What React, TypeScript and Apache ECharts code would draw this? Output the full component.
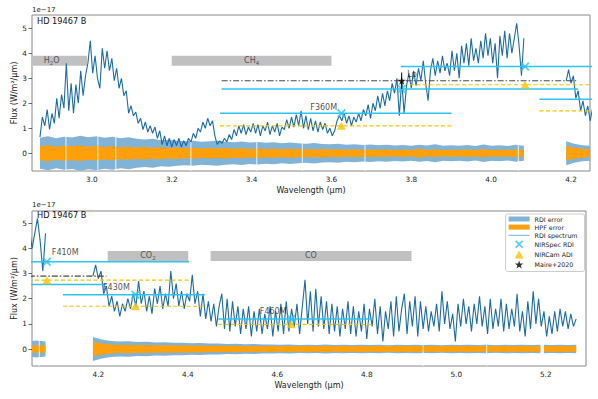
import React, { useEffect, useRef } from "react";
import * as echarts from "echarts";

const FONT = "DejaVu Sans";

// ---------------- spectrum (flux in 1e-17 W/m2/um) ----------------
const specStep = 0.006;
const specAStart = 2.87;
const specAFlux = [
  0.65, 1.45, 1.1, 1.75, 0.95, 1.6, 1.2, 2.2, 1.4, 2.35,
  1.8, 3.6, 1.7, 2.8, 1.6, 2.75, 2.0, 3.3, 2.3, 3.1,
  3.6, 4.5, 3.2, 3.9, 3.0, 2.6, 4.2, 3.4, 4.1, 3.3,
  3.8, 2.9, 3.4, 2.6, 3.0, 2.3, 2.5, 1.6, 1.9, 1.5,
  1.65, 1.2, 1.4, 0.95, 1.25, 0.85, 1.1, 0.8, 1.05, 0.6,
  0.9, 0.35, 0.7, 0.3, 0.6, 0.25, 0.55, 0.3, 0.6, 0.25,
  0.5, 0.3, 0.6, 0.45, 0.8, 0.6, 1.0, 0.85, 1.25, 1.0,
  1.4, 1.1, 1.3, 0.7, 0.35, 0.5, 0.4, 0.6, 0.45, 0.75,
  0.55, 0.95, 0.7, 1.1, 0.8, 1.15, 0.75, 1.05, 0.85, 1.2,
  0.8, 1.15, 0.7, 1.1, 0.9, 1.25, 0.75, 1.1, 0.85, 1.2,
  0.7, 1.05, 0.95, 1.35, 1.0, 1.45, 1.05, 1.55, 1.1, 1.7,
  1.0, 1.5, 0.95, 1.4, 0.9, 1.3, 0.85, 1.25, 0.95, 1.2,
  0.8, 1.0, 0.7, 0.9, 1.3, 1.5, 1.3, 1.6, 1.2, 1.5,
  1.1, 1.45, 1.25, 1.6, 1.3, 1.75, 1.5, 1.95, 1.4, 2.0,
  1.7, 2.3, 1.8, 2.4, 1.9, 2.5, 2.1, 2.8, 2.4, 3.0,
  1.5, 2.9, 1.6, 2.7, 3.2, 2.6, 3.3, 2.7, 3.4, 2.9,
  3.7, 2.8, 2.1, 3.3, 3.8, 3.1, 3.7, 3.2, 3.9, 3.3,
  3.6, 3.1, 4.1, 3.3, 4.0, 3.0, 4.3, 3.6, 4.4, 3.5,
  4.6, 3.7, 4.2, 3.6, 4.5, 3.8, 4.8, 3.9, 4.6, 3.6,
  4.4, 3.0, 4.7, 3.9, 4.9, 3.8, 4.8, 4.0, 4.6, 5.2,
  4.3, 3.1, 4.6,
];
const specBStart = 4.188;
const specBFlux = [
  2.9, 3.35, 2.8, 3.1, 2.2, 2.5, 1.7, 2.1, 1.5, 1.9,
  1.3, 1.8, 1.5, 2.0, 1.6, 2.2, 1.7, 2.7, 1.8, 2.3,
  1.5, 2.1, 1.4, 2.4, 1.8, 2.5, 1.6, 2.2, 1.7, 3.1,
  2.0, 2.6, 1.7, 2.3, 1.6, 2.2, 1.9, 2.95, 1.8, 2.3,
  1.3, 2.2, 1.2, 1.9, 1.1, 1.8, 0.9, 1.7,
  2.2, 0.8, 2.0, 0.7, 1.9, 0.9, 1.7, 0.6, 1.6, 0.8, 1.7, 0.5,
  1.5, 0.7, 1.6, 0.6, 1.4, 0.8, 1.7, 0.5, 1.5, 0.7,
  1.8, 0.6, 1.9, 0.7, 1.6, 0.9, 1.8, 0.6, 1.7, 2.75,
  1.0, 2.3, 0.7, 2.4, 0.9, 2.1, 0.8, 1.9, 0.6, 1.8,
  0.7, 1.7, 0.5, 1.6, 0.8, 1.9, 0.6, 1.7, 0.5, 1.5,
  0.7, 1.8, 0.4, 1.6, 0.9, 2.0, 0.6, 1.7, 0.3, 1.5,
  0.8, 1.9, 0.5, 2.1, 0.7, 1.6,
  2.2, 0.6, 1.9, 0.9, 2.1, 0.5, 1.9, 0.8, 1.7, 0.7,
  1.5, 0.9, 1.8, 0.7, 2.3, 1.0, 1.9, 0.8, 1.4, 0.3,
  1.8, 0.9, 2.0, 1.0, 1.7, 0.7, 1.8, 1.0, 2.1, 0.9,
  1.7, 0.6, 2.0, 0.8, 1.6, 0.9, 2.0, 0.7, 1.8, 0.8,
  1.6, 0.9, 2.2, 0.7, 1.5, 0.5, 1.9, 0.8, 2.3, 1.0,
  2.0, 0.9, 1.5, 0.5, 1.3, 0.6, 1.5, 0.7, 1.6, 0.9,
  1.5, 0.8, 1.4, 0.9, 1.2,
];

// ---------------- error bands (half widths) ----------------
const bandStarts = [2.87, 4.188, 5.196];
const bandEnds = [4.082, 5.188, 5.268];
const rdiErr1 = [
  0.62, 0.68, 0.6, 0.66, 0.63, 0.7, 0.64, 0.68, 0.62, 0.66,
  0.6, 0.64, 0.58, 0.55, 0.58, 0.52, 0.54, 0.5, 0.48, 0.5,
  0.46, 0.48, 0.5, 0.46, 0.44, 0.47, 0.43, 0.45, 0.42, 0.44,
  0.4, 0.43, 0.4, 0.38, 0.41, 0.37, 0.36, 0.38, 0.34, 0.36,
  0.33, 0.35, 0.32, 0.34, 0.31, 0.33, 0.3, 0.34, 0.31, 0.36,
  0.3, 0.32, 0.3, 0.33, 0.29, 0.35, 0.3, 0.32, 0.29, 0.34,
  0.3,
];
const hpfErr1 = [
  0.28, 0.32, 0.26, 0.3, 0.28, 0.31, 0.26, 0.29, 0.25, 0.28,
  0.24, 0.26, 0.23, 0.25, 0.22, 0.24, 0.21, 0.23, 0.2, 0.22,
  0.19, 0.21, 0.19, 0.21, 0.18, 0.2, 0.17, 0.19, 0.17, 0.18,
  0.16, 0.18, 0.16, 0.17, 0.15, 0.17, 0.15, 0.16, 0.14, 0.16,
  0.14, 0.15, 0.14, 0.15, 0.13, 0.15, 0.13, 0.18, 0.13, 0.15,
  0.13, 0.14, 0.13, 0.15, 0.13, 0.16, 0.13, 0.14, 0.13, 0.15,
  0.14,
];
const rdiErr2 = [
  0.48, 0.38, 0.32, 0.3, 0.31, 0.28, 0.29, 0.26, 0.27, 0.25,
  0.25, 0.23, 0.24, 0.22, 0.22, 0.2, 0.21, 0.19, 0.2, 0.18,
  0.18, 0.17, 0.18, 0.16, 0.17, 0.16, 0.18, 0.16, 0.17, 0.16,
  0.17, 0.16, 0.17, 0.15, 0.17, 0.16, 0.17, 0.16, 0.17, 0.15,
  0.17, 0.16, 0.17, 0.16, 0.17, 0.15, 0.17, 0.16, 0.17, 0.16,
  0.17,
];
const hpfErr2 = [
  0.28, 0.22, 0.18, 0.16, 0.17, 0.15, 0.16, 0.14, 0.15, 0.14,
  0.14, 0.13, 0.14, 0.12, 0.13, 0.12, 0.13, 0.11, 0.12, 0.11,
  0.12, 0.11, 0.12, 0.11, 0.12, 0.11, 0.12, 0.11, 0.12, 0.11,
  0.12, 0.11, 0.12, 0.11, 0.12, 0.11, 0.12, 0.11, 0.12, 0.11,
  0.12, 0.11, 0.12, 0.11, 0.12, 0.11, 0.12, 0.11, 0.12, 0.11,
  0.12,
];
const rdiErr3 = [0.17, 0.16, 0.17, 0.16, 0.17];
const hpfErr3 = [0.12, 0.11, 0.12, 0.11, 0.12];
// thin gaps (missing channels) crossing the error bands
const bandGapWaves = [2.935, 3.015, 3.06, 3.248, 3.413, 3.527, 3.684, 4.068, 4.926, 5.068];
const bandGapHalfHeight = 0.72;

// ---------------- absorption features ----------------
const featureLabels = ["{n|H}{s|2}{n|O}", "{n|CH}{s|4}", "{n|CO}{s|2}", "{n|CO}"];
const featureStart = [2.85, 3.2, 4.221, 4.451];
const featureEnd = [2.988, 3.6, 4.401, 4.9];
const featureLabelX = [2.899, 3.4, 4.311, 4.675];
const featureLow = 3.5;
const featureHigh = 3.9;
const featureLabelY = 3.7;

// ---------------- photometry ----------------
const filterWave = [3.776, 3.625, 4.085, 4.283, 4.631];
const rdiStart = [3.325, 3.321, 3.774, 4.121, 4.468];
const rdiEnd = [4.218, 3.901, 4.403, 4.438, 4.813];
const rdiFlux = [2.57, 1.6, 3.47, 2.16, 1.19];
const adiStart = [3.321, 3.797, 4.121, 4.468];
const adiEnd = [3.901, 4.404, 4.438, 4.813];
const adiWave = [3.625, 4.085, 4.283, 4.631];
const adiFlux = [1.1, 2.74, 1.7, 0.98];
const maireStart = 3.325;
const maireEnd = 4.218;
const maireWave = 3.776;
const maireFlux = 2.9;
const maireErr = 0.33;
const filterLabelText = ["F360M", "Lp", "F410M", "F430M", "F460M"];
const filterLabelX = [3.547, 3.79, 4.096, 4.2105, 4.561];
const filterLabelY = [1.84, 3.16, 3.82, 2.45, 1.5];
const filterLabelPanel = [0, 0, 1, 1, 1];

// ---------------- axes ----------------
const xTicksTop = [3.0, 3.2, 3.4, 3.6, 3.8, 4.0, 4.2];
const xTicksBottom = [4.2, 4.4, 4.6, 4.8, 5.0, 5.2];
const yTicks = [0, 1, 2, 3, 4, 5];
const xRangeTop = [2.85, 4.2476];
const xRangeBottom = [4.0518, 5.29];
const yRangeTop = [-0.708, 5.53];
const yRangeBottom = [-0.676, 5.49];

const C_SPEC = "#1c6aa6";
const C_RDIERR = "#80b3d6";
const C_HPF = "#ffa00a";
const C_CYAN = "#2cc3f2";
const C_GOLD = "#f5c200";
const C_DASHDOT = "#4a4a4a";
const C_BAND = "#c0c0c0";

const X_PATH =
  "path://M1.5,0L5,3.5L8.5,0L10,1.5L6.5,5L10,8.5L8.5,10L5,6.5L1.5,10L0,8.5L3.5,5L0,1.5Z";
const TRI_PATH = "path://M5,0L10,9L0,9Z";
const STAR_PATH =
  "path://M5,0L6.18,3.38L9.76,3.45L6.9,5.62L7.94,9.05L5,7L2.06,9.05L3.1,5.62L0.24,3.45L3.82,3.38Z";

function specPoints(start: number, vals: number[]) {
  return vals.map((v, i) => [+(start + i * specStep).toFixed(4), v]);
}

export default function App() {
  const ref = useRef<HTMLDivElement>(null);
  useEffect(() => {
    if (!ref.current) return;
    const chart = echarts.init(ref.current, null, { renderer: "svg" });
    const rdiErrs = [rdiErr1, rdiErr2, rdiErr3];
    const hpfErrs = [hpfErr1, hpfErr2, hpfErr3];
    const specA = specPoints(specAStart, specAFlux);
    const specB = specPoints(specBStart, specBFlux);

    const series: any[] = [];
    const bandSeries = (g: number, name: string, errs: number[][], color: string, z: number) => ({
      type: "custom",
      name,
      xAxisIndex: g,
      yAxisIndex: g,
      z,
      clip: true,
      silent: true,
      itemStyle: { color },
      encode: { x: 0, y: 1 },
      data: bandStarts.map((s, i) => [s, 0, i]),
      renderItem: (_p: any, api: any) => {
        const idx = api.value(2);
        const hw = errs[idx];
        const n = hw.length;
        const s0 = bandStarts[idx];
        const s1 = bandEnds[idx];
        const pts: number[][] = [];
        for (let i = 0; i < n; i++) {
          const lam = s0 + ((s1 - s0) * i) / (n - 1);
          pts.push(api.coord([lam, hw[i]]));
        }
        for (let i = n - 1; i >= 0; i--) {
          const lam = s0 + ((s1 - s0) * i) / (n - 1);
          pts.push(api.coord([lam, -hw[i]]));
        }
        return { type: "polygon", shape: { points: pts }, style: { fill: color } };
      },
    });
    const hline = (g: number, x0: number, x1: number, y: number, color: string, type: any, width: number, z: number) => ({
      type: "line",
      name: "seg",
      xAxisIndex: g,
      yAxisIndex: g,
      data: [
        [x0, y],
        [x1, y],
      ],
      symbol: "none",
      silent: true,
      z,
      lineStyle: { color, type, width },
    });

    for (let g = 0; g < 2; g++) {
      const fIdx = featureStart.map((_, i) => i).filter((i) => (g === 0 ? i < 2 : i >= 2));
      series.push({
        type: "custom",
        name: "features",
        xAxisIndex: g,
        yAxisIndex: g,
        z: 1,
        clip: true,
        silent: true,
        encode: { x: [0, 1], y: [2, 3] },
        data: fIdx.map((i) => [featureStart[i], featureEnd[i], featureLow, featureHigh]),
        renderItem: (_p: any, api: any) => {
          const p0 = api.coord([api.value(0), api.value(3)]);
          const p1 = api.coord([api.value(1), api.value(2)]);
          return {
            type: "rect",
            shape: { x: p0[0], y: p0[1], width: p1[0] - p0[0], height: p1[1] - p0[1] },
            style: { fill: C_BAND },
          };
        },
      });
      series.push({
        type: "scatter",
        name: "featureLabels",
        xAxisIndex: g,
        yAxisIndex: g,
        symbolSize: 0,
        silent: true,
        z: 2,
        data: fIdx.map((i) => ({ value: [featureLabelX[i], featureLabelY], name: featureLabels[i] })),
        label: {
          show: true,
          position: "inside",
          formatter: (p: any) => p.name,
          rich: {
            n: { fontFamily: FONT, fontSize: 8, color: "#333" },
            s: { fontFamily: FONT, fontSize: 5.5, color: "#333", padding: [5, 0, 0, 0] },
          },
        },
      });
      series.push(bandSeries(g, "RDI error", rdiErrs, C_RDIERR, 2));
      series.push(bandSeries(g, "HPF error", hpfErrs, C_HPF, 3));
      series.push({
        type: "custom",
        name: "bandGaps",
        xAxisIndex: g,
        yAxisIndex: g,
        z: 3,
        clip: true,
        silent: true,
        encode: { x: 0, y: 1 },
        data: bandGapWaves.map((w) => [w, bandGapHalfHeight]),
        renderItem: (_p: any, api: any) => {
          const p0 = api.coord([api.value(0), api.value(1)]);
          const p1 = api.coord([api.value(0), -api.value(1)]);
          return {
            type: "rect",
            shape: { x: p0[0] - 0.5, y: p0[1], width: 1, height: p1[1] - p0[1] },
            style: { fill: "rgba(255,255,255,0.85)" },
          };
        },
      });
      for (const d of [specA, specB]) {
        series.push({
          type: "line",
          name: "RDI spectrum",
          xAxisIndex: g,
          yAxisIndex: g,
          data: d,
          symbol: "none",
          silent: true,
          z: 4,
          itemStyle: { color: C_SPEC },
          lineStyle: { color: C_SPEC, width: 1.1 },
        });
      }
      series.push(hline(g, maireStart, maireEnd, maireFlux, C_DASHDOT, [6, 2, 1.5, 2], 1.2, 5));
      for (let i = 0; i < rdiFlux.length; i++) {
        series.push(hline(g, rdiStart[i], rdiEnd[i], rdiFlux[i], C_CYAN, "solid", 1.5, 5));
      }
      for (let i = 0; i < adiFlux.length; i++) {
        series.push(hline(g, adiStart[i], adiEnd[i], adiFlux[i], C_GOLD, [4, 2.5], 1.2, 5));
      }
      series.push({
        type: "scatter",
        name: "NIRSpec RDI",
        xAxisIndex: g,
        yAxisIndex: g,
        symbol: X_PATH,
        symbolSize: 9,
        z: 6,
        silent: true,
        itemStyle: { color: C_CYAN },
        data: filterWave.map((w, i) => [w, rdiFlux[i]]),
      });
      series.push({
        type: "scatter",
        name: "NIRCam ADI",
        xAxisIndex: g,
        yAxisIndex: g,
        symbol: TRI_PATH,
        symbolSize: [9, 8],
        z: 6,
        silent: true,
        itemStyle: { color: C_GOLD },
        data: adiWave.map((w, i) => [w, adiFlux[i]]),
      });
      series.push({
        type: "scatter",
        name: "Maire+2020",
        xAxisIndex: g,
        yAxisIndex: g,
        symbol: STAR_PATH,
        symbolSize: 8,
        z: 7,
        silent: true,
        itemStyle: { color: "#000" },
        data: [[maireWave, maireFlux]],
      });
      series.push({
        type: "line",
        name: "Maire err",
        xAxisIndex: g,
        yAxisIndex: g,
        symbol: "none",
        silent: true,
        z: 7,
        lineStyle: { color: "#000", width: 1 },
        data: [
          [maireWave, maireFlux - maireErr],
          [maireWave, maireFlux + maireErr],
        ],
      });
      series.push({
        type: "scatter",
        name: "filterLabels",
        xAxisIndex: g,
        yAxisIndex: g,
        symbolSize: 0,
        silent: true,
        z: 8,
        data: filterLabelText
          .map((t, i) => ({ value: [filterLabelX[i], filterLabelY[i]], name: t, p: filterLabelPanel[i] }))
          .filter((d) => d.p === g)
          .map((d) => ({ value: d.value, name: d.name })),
        label: {
          show: true,
          position: "right",
          distance: 0,
          formatter: (p: any) => p.name,
          fontFamily: FONT,
          fontSize: 8,
          color: "#222",
        },
      });
    }

    const xAxis = (g: number, range: number[], ticks: number[]) => ({
      type: "value",
      gridIndex: g,
      min: range[0],
      max: range[1],
      name: "Wavelength (μm)",
      nameLocation: "middle",
      nameGap: 15.5,
      nameMoveOverlap: false,
      nameTextStyle: { fontFamily: FONT, fontSize: 8, color: "#222" },
      axisLine: { show: false },
      axisTick: { show: true, length: 3.5, customValues: ticks, lineStyle: { color: "#444", width: 0.8 } },
      axisLabel: {
        customValues: ticks,
        formatter: (v: number) => v.toFixed(1),
        fontFamily: FONT,
        fontSize: 7.3,
        color: "#222",
        margin: 5,
      },
      splitLine: { show: false },
    });
    const yAxis = (g: number, range: number[]) => ({
      type: "value",
      gridIndex: g,
      min: range[0],
      max: range[1],
      name: "Flux (W/m²/μm)",
      nameLocation: "middle",
      nameRotate: 90,
      nameGap: 14,
      nameMoveOverlap: false,
      nameTextStyle: { fontFamily: FONT, fontSize: 8, color: "#222" },
      axisLine: { show: false },
      axisTick: { show: true, length: 3.5, customValues: yTicks, lineStyle: { color: "#444", width: 0.8 } },
      axisLabel: {
        customValues: yTicks,
        formatter: (v: number) => String(Math.round(v)),
        fontFamily: FONT,
        fontSize: 7.3,
        color: "#222",
        margin: 5,
      },
      splitLine: { show: false },
    });

    const gridBase = {
      show: true,
      borderColor: "#888",
      borderWidth: 1,
      backgroundColor: "transparent",
      containLabel: false,
      outerBoundsMode: "none",
    };
    const option: any = {
      animation: false,
      backgroundColor: "#ffffff",
      grid: [
        { ...gridBase, left: 32, top: 15, width: 558, height: 156 },
        { ...gridBase, left: 32, top: 211, width: 554, height: 155 },
      ],
      xAxis: [xAxis(0, xRangeTop, xTicksTop), xAxis(1, xRangeBottom, xTicksBottom)],
      yAxis: [yAxis(0, yRangeTop), yAxis(1, yRangeBottom)],
      legend: {
        right: 13.5,
        top: 214,
        orient: "vertical",
        itemWidth: 21,
        itemHeight: 8,
        itemGap: 2.1,
        padding: [2, 7, 3, 3],
        backgroundColor: "#fff",
        borderColor: "#cccccc",
        borderWidth: 1,
        borderRadius: 2,
        selectedMode: false,
        symbolKeepAspect: true,
        textStyle: { fontFamily: FONT, fontSize: 6.3, color: "#222" },
        data: [
          { name: "RDI error", icon: "path://M0,0H21V5H0Z", itemStyle: { color: C_RDIERR } },
          { name: "HPF error", icon: "path://M0,0H21V5H0Z", itemStyle: { color: C_HPF } },
          { name: "RDI spectrum", icon: "path://M0,0H40V1.3H0Z", itemStyle: { color: "#3b8ccc" } },
          { name: "NIRSpec RDI", icon: X_PATH, itemStyle: { color: C_CYAN } },
          { name: "NIRCam ADI", icon: TRI_PATH, itemStyle: { color: C_GOLD } },
          { name: "Maire+2020", icon: STAR_PATH, itemStyle: { color: "#000" } },
        ],
      },
      graphic: [
        { type: "text", x: 32, y: 9.5, style: { text: "1e−17", fontFamily: FONT, fontSize: 7, fill: "#222", verticalAlign: "middle" } },
        { type: "text", x: 32, y: 205, style: { text: "1e−17", fontFamily: FONT, fontSize: 7, fill: "#222", verticalAlign: "middle" } },
        { type: "text", x: 37, y: 20.5, style: { text: "HD 19467 B", fontFamily: FONT, fontSize: 8.2, fill: "#111", verticalAlign: "middle" } },
        { type: "text", x: 37, y: 214.5, style: { text: "HD 19467 B", fontFamily: FONT, fontSize: 8.2, fill: "#111", verticalAlign: "middle" } },
      ],
      series,
    };
    chart.setOption(option);
    return () => chart.dispose();
  }, []);
  return (
    <div
      ref={ref}
      style={{ position: "fixed", left: 0, top: 0, width: 598, height: 399, background: "#fff" }}
    />
  );
}
